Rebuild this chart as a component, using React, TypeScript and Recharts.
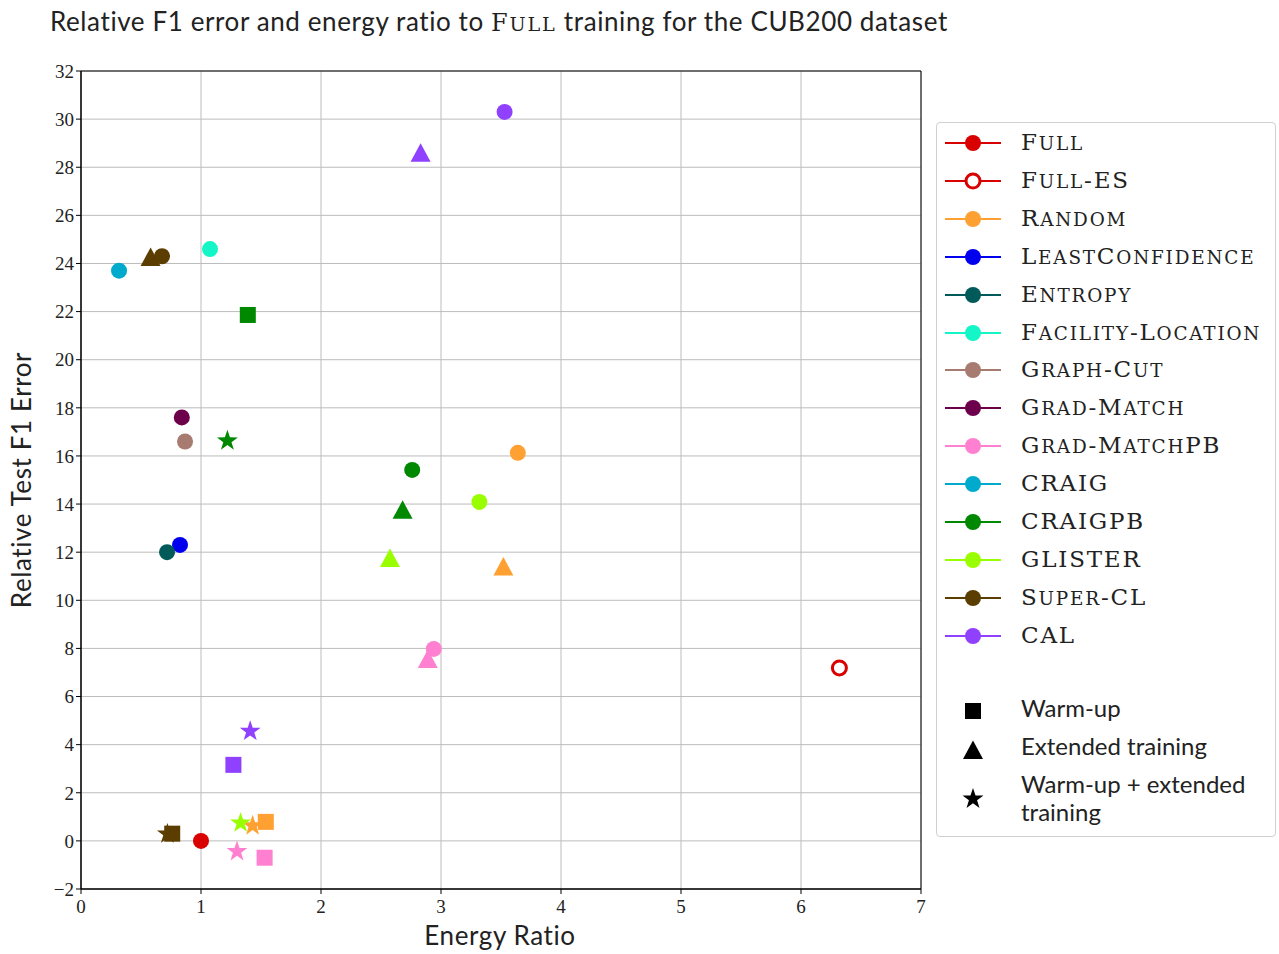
import React from "react";
import {
  ScatterChart,
  Scatter,
  XAxis,
  YAxis,
  CartesianGrid,
  ReferenceArea,
} from "recharts";

// methods, legend order
const methodNames = [
  "Full",
  "Full-ES",
  "Random",
  "LeastConfidence",
  "Entropy",
  "Facility-Location",
  "Graph-Cut",
  "Grad-Match",
  "Grad-MatchPB",
  "CRAIG",
  "CRAIGPB",
  "GLISTER",
  "Super-CL",
  "CAL",
];
const methodColors = [
  "#d90000",
  "#d90000",
  "#ffa033",
  "#0000ee",
  "#005a5a",
  "#14f5c8",
  "#a77b6f",
  "#6d004b",
  "#ff80d0",
  "#00aacc",
  "#008800",
  "#99ff00",
  "#5c3d00",
  "#9040ff",
];

// plain runs (circles)
const baseEnergy = [1.0, 6.32, 3.64, 0.825, 0.717, 1.075, 0.867, 0.84, 2.94, 0.317, 2.76, 3.32, 0.675, 3.53];
const baseError = [0, 7.19, 16.13, 12.3, 12.0, 24.6, 16.6, 17.6, 7.98, 23.7, 15.42, 14.09, 24.3, 30.3];

// warm-up (squares)
const warmupMethods = ["Random", "Grad-MatchPB", "CRAIGPB", "Super-CL", "CAL"];
const warmupEnergy = [1.54, 1.53, 1.39, 0.76, 1.27];
const warmupError = [0.79, -0.7, 21.86, 0.3, 3.16];

// extended training (triangles)
const extendedMethods = ["Random", "Grad-MatchPB", "CRAIGPB", "GLISTER", "Super-CL", "CAL"];
const extendedEnergy = [3.52, 2.89, 2.68, 2.575, 0.58, 2.83];
const extendedError = [11.4, 7.56, 13.76, 11.76, 24.27, 28.6];

// warm-up + extended (stars)
const bothMethods = ["Random", "Grad-MatchPB", "CRAIGPB", "GLISTER", "Super-CL", "CAL"];
const bothEnergy = [1.43, 1.3, 1.22, 1.33, 0.72, 1.41];
const bothError = [0.67, -0.4, 16.67, 0.79, 0.33, 4.6];

const xTicks = [0, 1, 2, 3, 4, 5, 6, 7];
const yTicks = [-2, 0, 2, 4, 6, 8, 10, 12, 14, 16, 18, 20, 22, 24, 26, 28, 30, 32];

const shapeLegend = ["Warm-up", "Extended training", "Warm-up + extended training"];

const SERIF = "'Liberation Serif', 'DejaVu Serif', serif";
const SANS = "Lato, 'DejaVu Sans', sans-serif";
const SC_FONT = "'DejaVu Serif', serif";

// LaTeX-like \textsc: capitals full size, lowercase as capitals at 80%
function SmallCaps({ text, size }: { text: string; size: number }) {
  const runs: { small: boolean; s: string }[] = [];
  for (const ch of text) {
    const small = ch !== ch.toUpperCase();
    const last = runs[runs.length - 1];
    if (last && last.small === small) last.s += ch;
    else runs.push({ small, s: ch });
  }
  return (
    <span style={{ fontFamily: SC_FONT, fontSize: size, letterSpacing: "1.8px" }}>
      {runs.map((r, i) =>
        r.small ? (
          <span key={i} style={{ fontSize: size * 0.8 }}>
            {r.s.toUpperCase()}
          </span>
        ) : (
          <span key={i}>{r.s}</span>
        )
      )}
    </span>
  );
}

type Kind = "circle" | "hollow" | "square" | "triangle" | "star";

function starPoints(cx: number, cy: number, ro: number, ri: number) {
  const pts: string[] = [];
  for (let i = 0; i < 10; i++) {
    const r = i % 2 === 0 ? ro : ri;
    const a = -Math.PI / 2 + (i * Math.PI) / 5;
    pts.push(`${cx + r * Math.cos(a)},${cy + r * Math.sin(a)}`);
  }
  return pts.join(" ");
}

function Marker({ kind, cx, cy, color }: { kind: Kind; cx: number; cy: number; color: string }) {
  if (cx == null || cy == null) return null;
  switch (kind) {
    case "hollow":
      return <circle cx={cx} cy={cy} r={7} fill="#fff" stroke={color} strokeWidth={3} />;
    case "square":
      return <rect x={cx - 8} y={cy - 8} width={16} height={16} fill={color} />;
    case "triangle":
      return (
        <polygon
          points={`${cx},${cy - 9.5} ${cx - 10},${cy + 9} ${cx + 10},${cy + 9}`}
          fill={color}
        />
      );
    case "star":
      return <polygon points={starPoints(cx, cy + 1, 11, 4.3)} fill={color} />;
    default:
      return <circle cx={cx} cy={cy} r={8} fill={color} />;
  }
}

function colorOf(name: string) {
  return methodColors[methodNames.indexOf(name)];
}

type Series = { key: string; kind: Kind; color: string; data: { x: number; y: number }[] };

const series: Series[] = [
  ...warmupMethods.map((m, i) => ({
    key: "w-" + m,
    kind: "square" as Kind,
    color: colorOf(m),
    data: [{ x: warmupEnergy[i], y: warmupError[i] }],
  })),
  ...bothMethods.map((m, i) => ({
    key: "s-" + m,
    kind: "star" as Kind,
    color: colorOf(m),
    data: [{ x: bothEnergy[i], y: bothError[i] }],
  })),
  ...extendedMethods.map((m, i) => ({
    key: "t-" + m,
    kind: "triangle" as Kind,
    color: colorOf(m),
    data: [{ x: extendedEnergy[i], y: extendedError[i] }],
  })),
  ...methodNames.map((m, i) => ({
    key: "c-" + m,
    kind: (m === "Full-ES" ? "hollow" : "circle") as Kind,
    color: methodColors[i],
    data: [{ x: baseEnergy[i], y: baseError[i] }],
  })),
];

function fmtY(v: number) {
  return v < 0 ? "\u2212" + Math.abs(v) : String(v);
}

function LegendBox() {
  const shapeKinds: Kind[] = ["square", "triangle", "star"];
  return (
    <div
      style={{
        position: "absolute",
        left: 936,
        top: 122,
        width: 340,
        height: 715,
        border: "1px solid #d0d0d0",
        borderRadius: 4,
        background: "#fff",
        boxSizing: "border-box",
      }}
    >
      {methodNames.map((m, i) => (
        <div
          key={m}
          style={{ position: "absolute", left: 0, top: 2 + i * 37.9, height: 36, width: 340 }}
        >
          <svg width={60} height={36} style={{ position: "absolute", left: 8, top: 0 }}>
            <line x1={0} x2={56} y1={18} y2={18} stroke={methodColors[i]} strokeWidth={2} />
            <Marker kind={m === "Full-ES" ? "hollow" : "circle"} cx={28} cy={18} color={methodColors[i]} />
          </svg>
          <div
            style={{
              position: "absolute",
              left: 84,
              top: 2,
              color: "#222",
              whiteSpace: "nowrap",
              lineHeight: "30px",
            }}
          >
            <SmallCaps text={m} size={23} />
          </div>
        </div>
      ))}
      {shapeLegend.map((s, i) => (
        <div
          key={s}
          style={{ position: "absolute", left: 0, top: 572 + i * 38, width: 340, height: 36 }}
        >
          <svg width={60} height={40} style={{ position: "absolute", left: 8, top: i === 2 ? 10 : 0 }}>
            <Marker kind={shapeKinds[i]} cx={28} cy={i === 0 ? 16 : 17} color="#000" />
          </svg>
          <div
            style={{
              position: "absolute",
              left: 84,
              top: -1,
              width: 250,
              fontFamily: SANS,
              fontSize: 24,
              color: "#222",
              lineHeight: "28px",
            }}
          >
            {s}
          </div>
        </div>
      ))}
    </div>
  );
}

export default function App() {
  return (
    <div style={{ position: "absolute", left: 0, top: 0, width: 1279, height: 954, background: "#fff" }}>
      <div
        style={{
          position: "absolute",
          left: 50,
          top: 5,
          fontFamily: SANS,
          fontSize: 26,
          letterSpacing: "0.6px",
          color: "#222",
          whiteSpace: "nowrap",
        }}
      >
        Relative F1 error and energy ratio to <SmallCaps text="Full" size={24} /> training for the
        CUB200 dataset
      </div>
      <ScatterChart
        width={1279}
        height={954}
        margin={{ top: 71, right: 358, bottom: 35, left: 31 }}
      >
        <CartesianGrid stroke="#bcbcbc" strokeWidth={1} horizontalValues={yTicks} verticalValues={xTicks} />
        <XAxis
          type="number"
          dataKey="x"
          domain={[0, 7]}
          ticks={xTicks}
          height={30}
          axisLine={{ stroke: "#000" }}
          tickLine={{ stroke: "#000" }}
          tickSize={5}
          tickMargin={6}
          tick={{ fill: "#222", fontFamily: SERIF, fontSize: 19 }}
          allowDataOverflow
          label={() => (
            <text
              x={500}
              y={945}
              textAnchor="middle"
              fontFamily={SANS}
              fontSize={26}
              letterSpacing="0.6px"
              fill="#222"
            >
              Energy Ratio
            </text>
          )}
        />
        <YAxis
          type="number"
          dataKey="y"
          domain={[-2, 32]}
          ticks={yTicks}
          width={50}
          interval={0}
          axisLine={{ stroke: "#000" }}
          tickLine={{ stroke: "#000" }}
          tickSize={5}
          tickFormatter={fmtY}
          tick={{ fill: "#222", fontFamily: SERIF, fontSize: 19 }}
          allowDataOverflow
          label={() => (
            <text
              x={31}
              y={480}
              transform="rotate(-90 31 480)"
              textAnchor="middle"
              fontFamily={SANS}
              fontSize={26}
              letterSpacing="0.6px"
              fill="#222"
            >
              Relative Test F1 Error
            </text>
          )}
        />
        <ReferenceArea
          x1={0}
          x2={7}
          y1={-2}
          y2={32}
          fill="none"
          fillOpacity={0}
          stroke="#000"
          strokeWidth={1}
          ifOverflow="visible"
        />
        {series.map((s) => (
          <Scatter
            key={s.key}
            data={s.data}
            fill={s.color}
            isAnimationActive={false}
            shape={(p: any) => <Marker kind={s.kind} cx={p.cx} cy={p.cy} color={s.color} />}
          />
        ))}
      </ScatterChart>
      <LegendBox />
    </div>
  );
}
